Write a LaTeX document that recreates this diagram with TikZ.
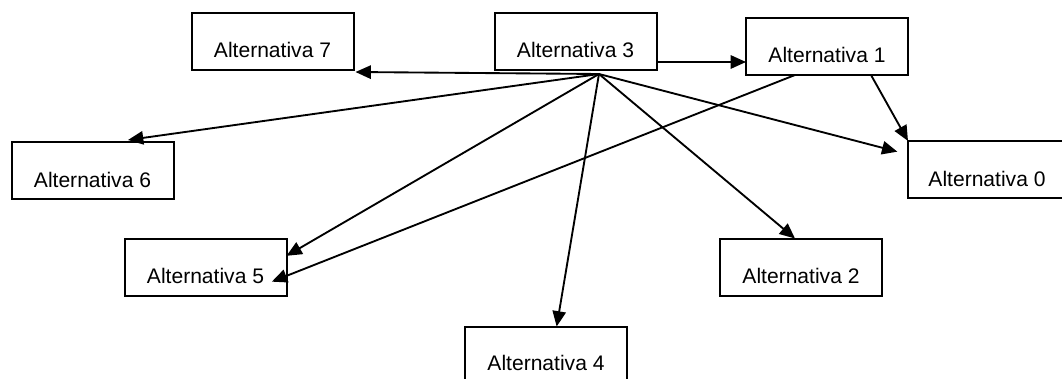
\documentclass[tikz,border=0pt]{standalone}
\usepackage{fontspec}
\setmainfont{Liberation Sans}
\usetikzlibrary{arrows.meta}
\begin{document}
\begin{tikzpicture}[x=0.75pt,y=-0.75pt,
  box/.style={draw=black,line width=1.5pt,minimum width=121.5pt,minimum height=42.75pt,inner sep=0pt,outer sep=0pt},
  lbl/.style={font=\fontsize{15.8pt}{18pt}\selectfont,inner sep=0pt,anchor=base},
  conn/.style={line width=1.4pt,-{Triangle[length=11.5pt,width=10pt]}}]
\useasboundingbox (0,0) rectangle (1062,378);
\clip (0,0) rectangle (1062,378);
% boxes
\node[box] (a7) at (272.5,41.5) {};
\node[box] (a3) at (575.5,41.5) {};
\node[box] (a1) at (827,46.5) {};
\node[box] (a6) at (92.5,170.5) {};
\node[box] (a0) at (989,169.5) {};
\node[box] (a5) at (205.5,267) {};
\node[box] (a2) at (801,267) {};
\node[box] (a4) at (546,355) {};
% labels
\node[lbl] (t7) at ([yshift=9pt]a7.south) {Alternativa 7};
\node[lbl] (t3) at ([yshift=9pt]a3.south) {Alternativa 3};
\node[lbl] (t1) at ([yshift=9pt]a1.south) {Alternativa 1};
\node[lbl] (t6) at ([yshift=9pt]a6.south) {Alternativa 6};
\node[lbl] (t0) at ([yshift=9pt,xshift=-1.5pt]a0.south) {Alternativa 0};
\node[lbl] (t5) at ([yshift=9pt]a5.south) {Alternativa 5};
\node[lbl] (t2) at ([yshift=9pt]a2.south) {Alternativa 2};
\node[lbl] (t4) at ([yshift=-33pt]a4.north) {Alternativa 4};
% hub point below Alternativa 3
\coordinate (hub) at ([xshift=17.6pt,yshift=-3pt]a3.south);
% connectors
\draw[conn] ([yshift=6pt]a3.south east) coordinate (s31) -- (s31 -| a1.west);
\draw[conn] (hub) -- ([xshift=1.5pt,yshift=-1.5pt]a7.south east);
\draw[conn] (hub) -- ([xshift=26.6pt,yshift=1.5pt]a6.north);
\draw[conn] (hub) -- ([yshift=-13pt]a5.north east);
\draw[conn] (hub) -- ([xshift=8pt]a4.north);
\draw[conn] (hub) -- ([xshift=-4.5pt]a2.north);
\draw[conn] (hub) -- ([xshift=-8pt,yshift=-8pt]a0.north west);
\draw[conn] ([xshift=-24pt]a1.south) -- ([xshift=-11pt,yshift=-11pt]a5.east);
\draw[conn] ([xshift=33pt]a1.south) -- (a0.north west);
\end{tikzpicture}
\end{document}
